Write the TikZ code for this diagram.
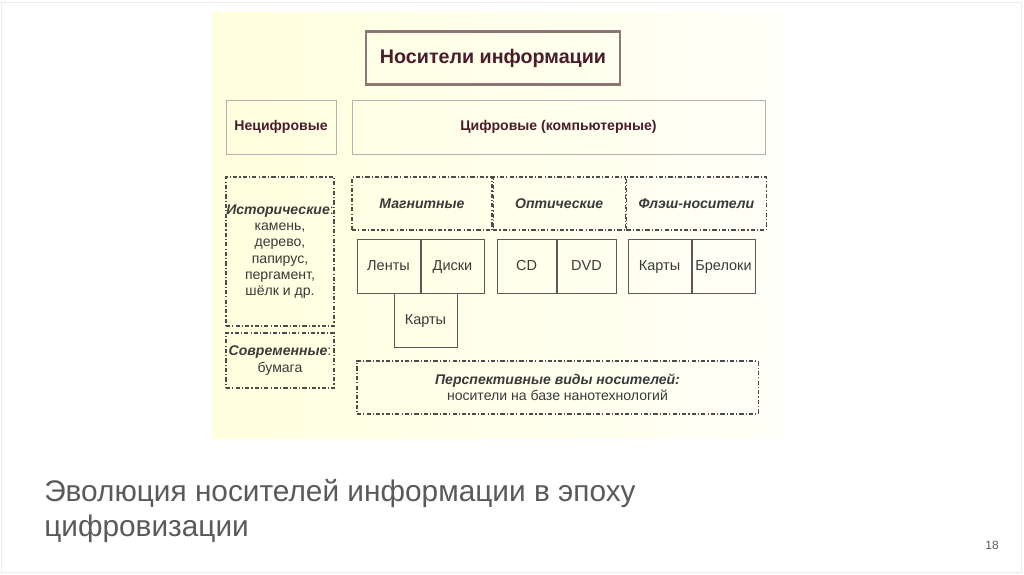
\documentclass[tikz,border=0pt]{standalone}
\usepackage{fontspec}
\setmainfont{Liberation Sans}
\usepackage{xcolor}
\usetikzlibrary{positioning}

\definecolor{wine}{HTML}{4A1C2C}
\definecolor{ink}{HTML}{3A3A3A}
\definecolor{frame}{HTML}{8C7676}
\definecolor{foot}{HTML}{5A5A5A}

\begin{document}
\begin{tikzpicture}[x=0.025cm, y=-0.025cm,
    hdr/.style={rectangle, draw=frame, line width=1.8pt, inner sep=0pt, minimum width=6.35cm, minimum height=1.325cm, font=\fontsize{14}{16}\selectfont\bfseries, text=wine},
    cat/.style={rectangle, draw=black!30, line width=0.6pt, inner sep=0pt, minimum height=1.35cm, font=\fontsize{10}{12}\selectfont\bfseries, text=wine},
    grp/.style={rectangle, draw=black!70, line width=0.8pt, dash pattern=on 3pt off 1.5pt on 0.8pt off 1.5pt, inner sep=0pt, align=center, font=\fontsize{10}{11.6}\selectfont, text=ink},
    it/.style={rectangle, draw=black!65, line width=0.7pt, inner sep=0pt, minimum width=1.575cm, minimum height=1.35cm, text height=1.6ex, text depth=0.4ex, font=\fontsize{10.3}{12}\selectfont, text=ink},
]
    % slide
    \useasboundingbox (0,0) rectangle (1024,574);
    \draw[black!8, line width=0.6pt] (1,2) rectangle (1021,572);
    \shade[left color=yellow!13, right color=yellow!3] (212,12) rectangle (782,438);

    \node[hdr] (title) at (493,58) {Носители информации};
    \node[cat, minimum width=2.75cm] (noncif) at (281,127) {Нецифровые};
    \node[cat, minimum width=10.325cm] (cif) at (558.5,127) {Цифровые (компьютерные)};

    % non-digital
    \node[grp, minimum width=2.7cm, minimum height=3.725cm] (hist) at (280,251.5)
        {\textbf{\textit{Исторические}}:\\камень,\\дерево,\\папирус,\\пергамент,\\шёлк и др.};
    \node[grp, minimum width=2.7cm, minimum height=1.375cm] (modern) at (280,360.5)
        {\textbf{\textit{Современные}}:\\бумага};

    % digital
    \node[grp, minimum width=3.5cm, minimum height=1.325cm, font=\fontsize{10}{12}\selectfont\bfseries\itshape] (magn) at (422,203.5) {Магнитные};
    \node[grp, minimum width=3.3cm, minimum height=1.325cm, font=\fontsize{10}{12}\selectfont\bfseries\itshape, right=0pt of magn] (opt) {Оптические};
    \node[grp, minimum width=3.5cm, minimum height=1.325cm, font=\fontsize{10}{12}\selectfont\bfseries\itshape, right=0pt of opt] (flash) {Флэш-носители};

    \node[it] (tapes) at (388.5,266) {Ленты};
    \node[it, right=0pt of tapes] (disks) {Диски};
    \node[it] (mcards) at (425.5,320) {Карты};
    \node[it, minimum width=1.475cm] (cd) at (526.5,266) {CD};
    \node[it, minimum width=1.475cm, right=0pt of cd] (dvd) {DVD};
    \node[it] (fcards) at (659.5,266) {Карты};
    \node[it, right=0pt of fcards] (keys) {Брелоки};

    \node[grp, minimum width=10.025cm, minimum height=1.325cm] (future) at (557.5,387.5)
        {\textbf{\textit{Перспективные виды носителей:}}\\носители на базе нанотехнологий};

    % caption
    \node[anchor=west, align=left, text=foot, font=\fontsize{21.2}{25}\selectfont, inner sep=0pt] (cap) at (44,511)
        {Эволюция носителей информации в эпоху\\цифровизации};
    \node[text=foot, font=\fontsize{8.5}{10}\selectfont, inner sep=0pt] (page) at (992,545) {18};
\end{tikzpicture}
\end{document}
